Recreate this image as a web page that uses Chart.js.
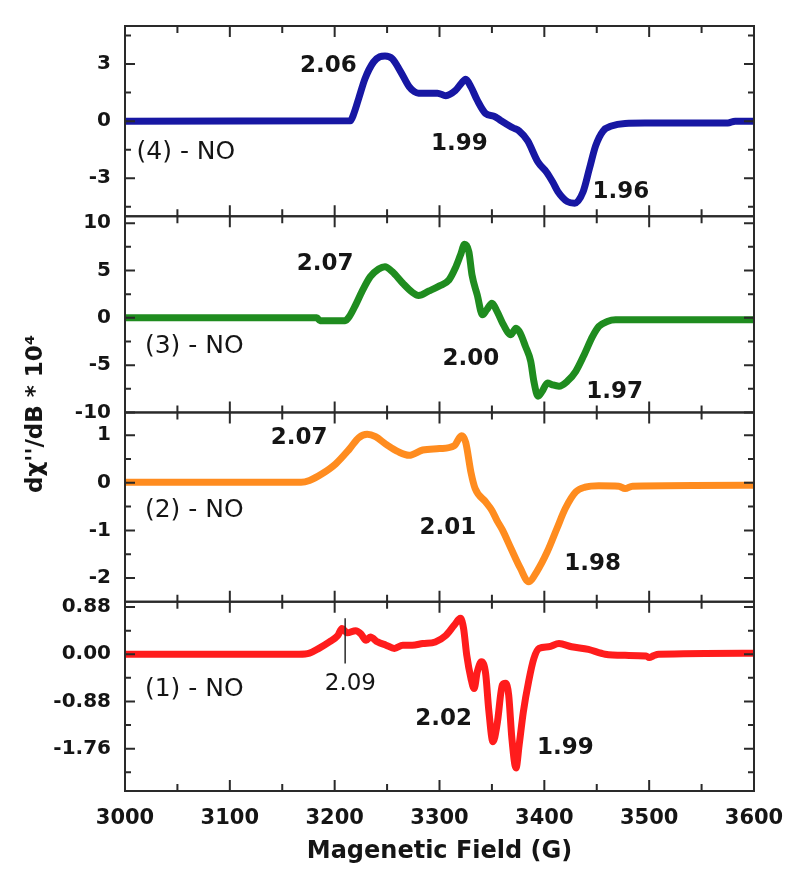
<!DOCTYPE html>
<html>
<head>
<meta charset="utf-8">
<title>EPR spectra - NO</title>
<script src="https://cdn.jsdelivr.net/npm/chart.js@4.4.1/dist/chart.umd.min.js"></script>
<style>
  html, body { margin: 0; padding: 0; background: #fff; }
  #wrap { width: 800px; height: 887px; position: relative; }
</style>
</head>
<body>
<div id="wrap"><canvas id="epr"></canvas></div>
<script>
// ---- data (field in G, signal in units of 10^4) ----
var p4Field  = [3000, 3215, 3218, 3223, 3229, 3237, 3243, 3248, 3255, 3263, 3271, 3276, 3280, 3298, 3306, 3315, 3321, 3325, 3330, 3336, 3344, 3352, 3358, 3363, 3370, 3376, 3384, 3394, 3402, 3408, 3413, 3422, 3429, 3437, 3443, 3449, 3456, 3464, 3477, 3496, 3575, 3582, 3600];
var p4Signal = [0, 0.02, 0.35, 1.2, 2.24, 3.1, 3.38, 3.42, 3.28, 2.59, 1.81, 1.55, 1.47, 1.47, 1.34, 1.6, 2.0, 2.2, 1.8, 1.1, 0.4, 0.26, 0.05, -0.12, -0.35, -0.52, -1.03, -2.16, -2.67, -3.2, -3.71, -4.23, -4.31, -3.71, -2.5, -1.29, -0.52, -0.26, -0.12, -0.1, -0.1, 0, 0];

var p3Field  = [3000, 3183, 3186, 3210, 3214, 3220, 3226, 3234, 3242, 3248, 3255, 3265, 3274, 3280, 3290, 3300, 3309, 3315, 3320, 3324, 3328, 3331, 3336, 3341, 3345, 3350, 3355, 3361, 3368, 3373, 3377, 3382, 3387, 3390, 3394, 3398, 3403, 3407, 3414, 3422, 3430, 3438, 3446, 3452, 3460, 3468, 3600];
var p3Signal = [0, 0, -0.3, -0.3, 0.14, 1.37, 2.77, 4.35, 5.16, 5.4, 4.87, 3.65, 2.7, 2.35, 2.84, 3.37, 4.0, 5.23, 6.63, 7.76, 6.98, 4.53, 2.42, 0.32, 0.84, 1.54, 0.66, -0.74, -1.79, -1.09, -1.61, -3.02, -4.6, -6.7, -8.28, -7.76, -6.88, -7.05, -7.23, -6.7, -5.65, -3.9, -1.97, -0.91, -0.39, -0.21, -0.2];

var p2Field  = [3000, 3168, 3176, 3188, 3201, 3214, 3223, 3231, 3239, 3249, 3261, 3271, 3284, 3300, 3314, 3321, 3325, 3330, 3334, 3344, 3350, 3355, 3360, 3368, 3377, 3385, 3393, 3403, 3412, 3420, 3430, 3439, 3452, 3471, 3477, 3484, 3600];
var p2Signal = [0.01, 0.01, 0.05, 0.19, 0.4, 0.71, 0.95, 1.02, 0.97, 0.81, 0.65, 0.58, 0.69, 0.72, 0.78, 0.99, 0.85, 0.22, -0.12, -0.4, -0.58, -0.8, -0.99, -1.37, -1.79, -2.08, -1.86, -1.44, -0.96, -0.54, -0.19, -0.09, -0.06, -0.07, -0.12, -0.07, -0.05];

var p1Field  = [3000, 3166, 3176, 3185, 3195, 3203, 3207, 3212, 3220, 3225, 3230, 3234, 3241, 3249, 3257, 3265, 3274, 3284, 3296, 3306, 3314, 3320, 3323, 3326, 3330, 3333, 3336, 3340, 3344, 3347, 3351, 3355, 3360, 3363, 3366, 3369, 3373, 3376, 3380, 3385, 3390, 3395, 3404, 3414, 3426, 3442, 3458, 3477, 3497, 3500, 3504, 3509, 3600];
var p1Signal = [0, 0, 0.02, 0.11, 0.23, 0.35, 0.48, 0.4, 0.44, 0.38, 0.26, 0.32, 0.23, 0.17, 0.11, 0.17, 0.17, 0.2, 0.23, 0.35, 0.54, 0.67, 0.48, -0.02, -0.45, -0.64, -0.33, -0.14, -0.36, -1.04, -1.63, -1.3, -0.57, -0.54, -0.76, -1.56, -2.12, -1.69, -1.07, -0.51, -0.08, 0.11, 0.14, 0.2, 0.14, 0.09, 0, -0.02, -0.03, -0.06, -0.03, 0, 0.02];

// ---- tick values / labels ----
var fieldMajor = [3000, 3100, 3200, 3300, 3400, 3500, 3600];
var fieldMinor = [3050, 3150, 3250, 3350, 3450, 3550];

var p4Major = [-3, 0, 3],             p4Labels = ["-3", "0", "3"],             p4Minor = [-4.5, -1.5, 1.5, 4.5];
var p3Major = [-10, -5, 0, 5, 10],    p3Labels = ["-10", "-5", "0", "5", "10"], p3Minor = [-7.5, -2.5, 2.5, 7.5];
var p2Major = [-2, -1, 0, 1],         p2Labels = ["-2", "-1", "0", "1"],       p2Minor = [-1.5, -0.5, 0.5];
var p1Major = [-1.76, -0.88, 0, 0.88], p1Labels = ["-1.76", "-0.88", "0.00", "0.88"], p1Minor = [-2.2, -1.32, -0.44, 0.44];

// g-value annotations (placed in data coordinates of their panel)
var notes = [
  { axis: "y4", text: "2.06", x: 3194, y: 2.92 },
  { axis: "y4", text: "1.99", x: 3319, y: -1.2 },
  { axis: "y4", text: "1.96", x: 3473, y: -3.75 },
  { axis: "y3", text: "2.07", x: 3191, y: 5.71 },
  { axis: "y3", text: "2.00", x: 3330, y: -4.35 },
  { axis: "y3", text: "1.97", x: 3467, y: -7.8 },
  { axis: "y2", text: "2.07", x: 3166, y: 0.94 },
  { axis: "y2", text: "2.01", x: 3308, y: -0.94 },
  { axis: "y2", text: "1.98", x: 3446, y: -1.71 },
  { axis: "y1", text: "2.09", x: 3215, y: -0.55, light: true },
  { axis: "y1", text: "2.02", x: 3304, y: -1.2 },
  { axis: "y1", text: "1.99", x: 3420, y: -1.74 }
];
var sampleNames = [
  { axis: "y4", text: "(4) - NO", x: 3011, y: -1.67 },
  { axis: "y3", text: "(3) - NO", x: 3019, y: -2.98 },
  { axis: "y2", text: "(2) - NO", x: 3019, y: -0.58 },
  { axis: "y1", text: "(1) - NO", x: 3019, y: -0.65 }
];

var FONT = "'DejaVu Sans', 'Liberation Sans', sans-serif";
var INK = "#151515";

function toXY(xs, ys) {
  return xs.map(function (x, i) { return { x: x, y: ys[i] }; });
}

function panelAxis(min, max, weight, major, labels) {
  return {
    type: "linear", position: "left", stack: "panels", stackWeight: weight,
    min: min, max: max,
    grid: { display: false, drawTicks: false },
    border: { display: false },
    afterBuildTicks: function (s) { s.ticks = major.map(function (v) { return { value: v }; }); },
    afterFit: function (s) { s.width = 125; },
    ticks: {
      autoSkip: false, padding: 14, color: INK,
      font: { family: FONT, size: 20, weight: "bold" },
      callback: function (v) { var i = major.indexOf(v); return i >= 0 ? labels[i] : ""; }
    }
  };
}

function series(xs, ys, axis, color) {
  return {
    data: toXY(xs, ys), yAxisID: axis, borderColor: color, backgroundColor: color,
    borderWidth: 7, pointRadius: 0, cubicInterpolationMode: "monotone",
    borderJoinStyle: "round", borderCapStyle: "round", fill: false
  };
}

var panelTicks = {
  y4: [p4Major, p4Minor], y3: [p3Major, p3Minor], y2: [p2Major, p2Minor], y1: [p1Major, p1Minor]
};

var framePlugin = {
  id: "frames",
  afterDatasetsDraw: function (chart) {
    var ctx = chart.ctx, a = chart.chartArea, xs = chart.scales.x;
    ctx.save();
    ctx.strokeStyle = "#2a2a2a";
    ctx.lineWidth = 2;
    Object.keys(panelTicks).forEach(function (id) {
      var s = chart.scales[id], top = s.top, bot = s.bottom;
      ctx.strokeRect(a.left, top, a.right - a.left, bot - top);
      ctx.beginPath();
      panelTicks[id][0].concat(panelTicks[id][1]).forEach(function (v, i) {
        var len = i < panelTicks[id][0].length ? 10 : 6;
        var py = s.getPixelForValue(v);
        ctx.moveTo(a.left, py); ctx.lineTo(a.left + len, py);
        ctx.moveTo(a.right, py); ctx.lineTo(a.right - len, py);
      });
      fieldMajor.concat(fieldMinor).forEach(function (v, i) {
        var len = i < fieldMajor.length ? 11 : 7;
        var px = xs.getPixelForValue(v);
        ctx.moveTo(px, top); ctx.lineTo(px, top + len);
        ctx.moveTo(px, bot); ctx.lineTo(px, bot - len);
      });
      ctx.stroke();
    });

    // marker for the 2.09 feature
    var y1 = chart.scales.y1;
    ctx.lineWidth = 1.5;
    ctx.beginPath();
    ctx.moveTo(xs.getPixelForValue(3210), y1.getPixelForValue(0.67));
    ctx.lineTo(xs.getPixelForValue(3210), y1.getPixelForValue(-0.17));
    ctx.stroke();

    ctx.fillStyle = INK;
    ctx.textBaseline = "middle";
    ctx.textAlign = "center";
    notes.forEach(function (n) {
      ctx.font = (n.light ? "" : "bold ") + "23px " + FONT;
      ctx.fillText(n.text, xs.getPixelForValue(n.x), chart.scales[n.axis].getPixelForValue(n.y));
    });
    ctx.textAlign = "left";
    ctx.font = "25px " + FONT;
    sampleNames.forEach(function (n) {
      ctx.fillText(n.text, xs.getPixelForValue(n.x), chart.scales[n.axis].getPixelForValue(n.y));
    });

    // shared y title
    ctx.translate(36, 414);
    ctx.rotate(-Math.PI / 2);
    ctx.textAlign = "center";
    ctx.font = "bold 23px " + FONT;
    ctx.fillText("d\u03C7''/dB * 10\u2074", 0, 0);
    ctx.restore();
  }
};

new Chart(document.getElementById("epr"), {
  type: "line",
  data: {
    datasets: [
      series(p1Field, p1Signal, "y1", "#ff1c1c"),
      series(p2Field, p2Signal, "y2", "#ff8c1f"),
      series(p3Field, p3Signal, "y3", "#1f8c1f"),
      series(p4Field, p4Signal, "y4", "#1717a3")
    ]
  },
  options: {
    responsive: true, maintainAspectRatio: false, animation: false,
    layout: { padding: { left: 0, right: 46, top: 19, bottom: 0 } },
    plugins: { legend: { display: false }, tooltip: { enabled: false } },
    scales: {
      x: {
        type: "linear", min: 3000, max: 3600,
        grid: { display: false, drawTicks: false },
        border: { display: false },
        afterBuildTicks: function (s) { s.ticks = fieldMajor.map(function (v) { return { value: v }; }); },
        afterFit: function (s) { s.height = 96; },
        ticks: { autoSkip: false, maxRotation: 0, padding: 15, color: INK,
                 font: { family: FONT, size: 21, weight: "bold" },
                 callback: function (v) { return String(v); } },
        title: { display: true, text: "Magenetic Field (G)", color: INK, padding: { top: 0, bottom: 21 },
                 font: { family: FONT, size: 24, weight: "bold" } }
      },
      y1: panelAxis(-2.55, 0.98, 191, p1Major, p1Labels),
      y2: panelAxis(-2.5, 1.48, 191, p2Major, p2Labels),
      y3: panelAxis(-10, 10.73, 198, p3Major, p3Labels),
      y4: panelAxis(-5, 5, 192, p4Major, p4Labels)
    }
  },
  plugins: [framePlugin]
});
</script>
</body>
</html>
